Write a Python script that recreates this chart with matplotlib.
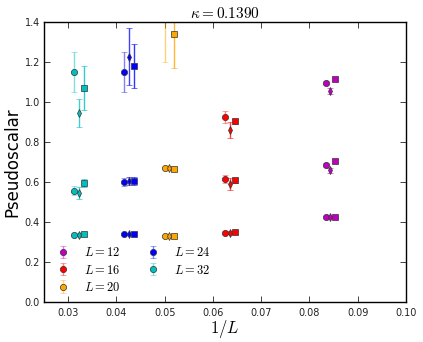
import matplotlib
matplotlib.use("Agg")
import matplotlib.pyplot as plt
import numpy as np

plt.rcParams['mathtext.fontset'] = 'cm'

Ls = [12, 16, 20, 24, 32]
colors = ['#bf00bf', '#ff0000', '#ffa500', '#0000ff', '#00bfbf']
labels = [r'$L=12$', r'$L=16$', r'$L=20$', r'$L=24$', r'$L=32$']

# three estimators per L (circle, diamond, square), three levels each
circ_lo = [0.423, 0.347, 0.330, 0.340, 0.335]
circ_lo_err = [0.005, 0.006, 0.006, 0.006, 0.006]
diam_lo = [0.423, 0.347, 0.330, 0.340, 0.337]
diam_lo_err = [0.005, 0.006, 0.006, 0.006, 0.006]
sq_lo = [0.425, 0.348, 0.332, 0.341, 0.338]
sq_lo_err = [0.005, 0.006, 0.006, 0.008, 0.008]

circ_mid = [0.685, 0.615, 0.672, 0.602, 0.557]
circ_mid_err = [0.008, 0.020, 0.008, 0.020, 0.022]
diam_mid = [0.658, 0.589, 0.670, 0.605, 0.543]
diam_mid_err = [0.012, 0.030, 0.008, 0.020, 0.030]
sq_mid = [0.705, 0.608, 0.665, 0.605, 0.593]
sq_mid_err = [0.008, 0.012, 0.008, 0.020, 0.020]

circ_hi = [1.095, 0.923, 1.55, 1.152, 1.148]
circ_hi_err = [0.012, 0.030, 0.35, 0.100, 0.100]
diam_hi = [1.057, 0.862, 1.70, 1.227, 0.943]
diam_hi_err = [0.015, 0.040, 0.10, 0.143, 0.070]
sq_hi = [1.117, 0.903, 1.34, 1.180, 1.070]
sq_hi_err = [0.010, 0.012, 0.17, 0.108, 0.110]

offset = 0.001

fig = plt.figure(figsize=(4.23, 3.42), dpi=100)
ax = fig.add_axes([44/423, 40/342, 362/423, 280/342])

for i, L in enumerate(Ls):
    x = 1.0 / L
    c = colors[i]
    for (vals, errs, mk, dx, ms, al) in [
        ((circ_lo, circ_mid, circ_hi), (circ_lo_err, circ_mid_err, circ_hi_err), 'o', 0.0, 4.5, 0.5),
        ((diam_lo, diam_mid, diam_hi), (diam_lo_err, diam_mid_err, diam_hi_err), 'd', offset, 3.8, 0.75),
        ((sq_lo, sq_mid, sq_hi), (sq_lo_err, sq_mid_err, sq_hi_err), 's', 2 * offset, 4.5, 0.8),
    ]:
        ec = matplotlib.colors.to_rgba(c, al)
        ys = [v[i] for v in vals]
        es = [e[i] for e in errs]
        lab = labels[i] if mk == 'o' else None
        ax.errorbar([x + dx] * 3, ys, yerr=es, fmt=mk, color=c, ecolor=ec,
                    mec='#333333', mew=0.5, ms=ms, elinewidth=1.0, capsize=2,
                    capthick=1.0, label=lab)

ax.set_xlim(0.025, 0.10)
ax.set_ylim(0.0, 1.4)
ax.set_xticks(np.arange(0.03, 0.101, 0.01))
ax.set_xticklabels(['0.03', '0.04', '0.05', '0.06', '0.07', '0.08', '0.09', '0.10'])
ax.set_yticks(np.arange(0.0, 1.41, 0.2))
ax.set_yticklabels(['0.0', '0.2', '0.4', '0.6', '0.8', '1.0', '1.2', '1.4'])
ax.tick_params(direction='in', top=True, right=True, labelsize=7, length=4,
               width=0.6, pad=4, colors='#222222')
ax.tick_params(axis='y', pad=3)
for s in ax.spines.values():
    s.set_linewidth(1.0)

ax.set_title(r'$\kappa=0.1390$', fontsize=11, pad=3)
ax.set_xlabel(r'$1/L$', fontsize=12, labelpad=0)
ax.set_ylabel('Pseudoscalar', fontsize=12, labelpad=2)

ax.legend(loc='lower left', ncol=2, frameon=False, fontsize=9,
          numpoints=1, handlelength=1.2, handletextpad=1.1,
          columnspacing=1.95, labelspacing=0.35, borderaxespad=0.25,
          bbox_to_anchor=(0.01, 0.0))

fig.savefig('out.png', dpi=100)
